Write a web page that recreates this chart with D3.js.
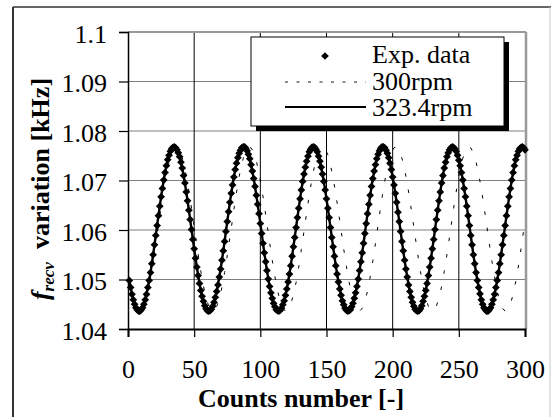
<html>
<script src='https://d3js.org/d3.v7.min.js'></script>
<style>
    body { margin: 0; background: #fff; }
    svg text { font-family: 'Liberation Serif', 'Times New Roman', serif; }
</style>
<body>
    <div id='vis'></div>
    <script>
        // measured frequency, one value per count (1..300)
        let expData = [
            1.0498,1.0484,1.0470,1.0459,1.0450,1.0443,1.0439,1.0436,1.0436,1.0439,
            1.0443,1.0450,1.0459,1.0470,1.0484,1.0498,1.0514,1.0532,1.0550,1.0570,
            1.0589,1.0609,1.0629,1.0648,1.0667,1.0684,1.0701,1.0716,1.0730,1.0742,
            1.0751,1.0759,1.0764,1.0767,1.0768,1.0766,1.0762,1.0756,1.0748,1.0737,
            1.0725,1.0710,1.0695,1.0677,1.0659,1.0640,1.0621,1.0601,1.0581,1.0562,
            1.0543,1.0525,1.0508,1.0492,1.0478,1.0466,1.0456,1.0447,1.0441,1.0437,
            1.0436,1.0437,1.0440,1.0446,1.0454,1.0464,1.0476,1.0489,1.0505,1.0521,
            1.0539,1.0558,1.0577,1.0597,1.0617,1.0637,1.0656,1.0674,1.0691,1.0707,
            1.0722,1.0735,1.0746,1.0755,1.0761,1.0766,1.0768,1.0768,1.0765,1.0760,
            1.0753,1.0744,1.0732,1.0719,1.0704,1.0688,1.0670,1.0652,1.0633,1.0613,
            1.0593,1.0573,1.0554,1.0536,1.0518,1.0501,1.0486,1.0473,1.0462,1.0452,
            1.0445,1.0439,1.0437,1.0436,1.0438,1.0442,1.0449,1.0457,1.0468,1.0481,
            1.0495,1.0511,1.0528,1.0547,1.0566,1.0585,1.0605,1.0625,1.0644,1.0663,
            1.0681,1.0698,1.0713,1.0727,1.0739,1.0749,1.0758,1.0763,1.0767,1.0768,
            1.0767,1.0763,1.0758,1.0749,1.0739,1.0727,1.0713,1.0698,1.0681,1.0663,
            1.0644,1.0625,1.0605,1.0585,1.0566,1.0547,1.0528,1.0511,1.0495,1.0481,
            1.0468,1.0457,1.0449,1.0442,1.0438,1.0436,1.0437,1.0439,1.0445,1.0452,
            1.0462,1.0473,1.0486,1.0501,1.0518,1.0536,1.0554,1.0573,1.0593,1.0613,
            1.0633,1.0652,1.0670,1.0688,1.0704,1.0719,1.0732,1.0744,1.0753,1.0760,
            1.0765,1.0768,1.0768,1.0766,1.0761,1.0755,1.0746,1.0735,1.0722,1.0707,
            1.0691,1.0674,1.0656,1.0636,1.0617,1.0597,1.0577,1.0558,1.0539,1.0521,
            1.0505,1.0489,1.0476,1.0464,1.0454,1.0446,1.0440,1.0437,1.0436,1.0437,
            1.0441,1.0447,1.0456,1.0466,1.0478,1.0492,1.0508,1.0525,1.0543,1.0562,
            1.0581,1.0601,1.0621,1.0640,1.0659,1.0677,1.0695,1.0710,1.0725,1.0737,
            1.0748,1.0756,1.0762,1.0766,1.0768,1.0767,1.0764,1.0759,1.0751,1.0741,
            1.0730,1.0716,1.0701,1.0684,1.0667,1.0648,1.0629,1.0609,1.0589,1.0570,
            1.0550,1.0532,1.0514,1.0498,1.0484,1.0471,1.0459,1.0450,1.0443,1.0439,
            1.0436,1.0436,1.0439,1.0443,1.0450,1.0459,1.0470,1.0484,1.0498,1.0514,
            1.0532,1.0550,1.0570,1.0589,1.0609,1.0629,1.0648,1.0667,1.0684,1.0701,
            1.0716,1.0730,1.0742,1.0751,1.0759,1.0764,1.0767,1.0768,1.0766,1.0762
        ];
        let expCounts = d3.range(1, expData.length + 1);

        // model curves, every second count plus the last one
        let lineCounts = d3.range(1, 300, 2).concat([300]);
        let fit323 = [
            1.0498,1.0470,1.0450,1.0439,1.0436,1.0443,1.0459,1.0484,1.0514,1.0550,
            1.0589,1.0629,1.0667,1.0701,1.0730,1.0751,1.0764,1.0768,1.0762,1.0748,
            1.0725,1.0695,1.0659,1.0621,1.0581,1.0543,1.0508,1.0478,1.0456,1.0441,
            1.0436,1.0440,1.0454,1.0476,1.0505,1.0539,1.0577,1.0617,1.0656,1.0691,
            1.0722,1.0746,1.0761,1.0768,1.0765,1.0753,1.0732,1.0704,1.0670,1.0633,
            1.0593,1.0554,1.0518,1.0486,1.0462,1.0445,1.0437,1.0438,1.0449,1.0468,
            1.0495,1.0528,1.0566,1.0605,1.0644,1.0681,1.0713,1.0739,1.0758,1.0767,
            1.0767,1.0758,1.0739,1.0713,1.0681,1.0644,1.0605,1.0566,1.0528,1.0495,
            1.0468,1.0449,1.0438,1.0437,1.0445,1.0462,1.0486,1.0518,1.0554,1.0593,
            1.0633,1.0670,1.0704,1.0732,1.0753,1.0765,1.0768,1.0761,1.0746,1.0722,
            1.0691,1.0656,1.0617,1.0577,1.0539,1.0505,1.0476,1.0454,1.0438,1.0433,
            1.0440,1.0456,1.0478,1.0508,1.0543,1.0581,1.0621,1.0659,1.0695,1.0725,
            1.0748,1.0762,1.0768,1.0764,1.0751,1.0730,1.0701,1.0667,1.0629,1.0589,
            1.0550,1.0514,1.0484,1.0459,1.0441,1.0433,1.0438,1.0450,1.0470,1.0498,
            1.0532,1.0570,1.0609,1.0648,1.0684,1.0716,1.0742,1.0759,1.0767,1.0766,
            1.0762
        ];
        let fit300 = [
            1.0497,1.0471,1.0451,1.0440,1.0436,1.0441,1.0455,1.0476,1.0503,1.0536,
            1.0572,1.0609,1.0646,1.0681,1.0712,1.0737,1.0755,1.0766,1.0768,1.0761,
            1.0746,1.0724,1.0696,1.0662,1.0626,1.0588,1.0551,1.0517,1.0487,1.0463,
            1.0446,1.0437,1.0437,1.0445,1.0461,1.0484,1.0514,1.0548,1.0585,1.0622,
            1.0659,1.0693,1.0722,1.0744,1.0760,1.0767,1.0766,1.0757,1.0739,1.0715,
            1.0685,1.0650,1.0613,1.0575,1.0539,1.0506,1.0478,1.0456,1.0442,1.0436,
            1.0439,1.0450,1.0469,1.0494,1.0525,1.0561,1.0598,1.0635,1.0671,1.0703,
            1.0730,1.0751,1.0764,1.0768,1.0764,1.0752,1.0731,1.0705,1.0673,1.0637,
            1.0600,1.0562,1.0527,1.0496,1.0470,1.0450,1.0439,1.0436,1.0442,1.0455,
            1.0477,1.0505,1.0537,1.0573,1.0611,1.0648,1.0683,1.0713,1.0738,1.0756,
            1.0766,1.0768,1.0761,1.0745,1.0723,1.0694,1.0661,1.0624,1.0587,1.0550,
            1.0516,1.0486,1.0462,1.0446,1.0437,1.0437,1.0446,1.0462,1.0486,1.0516,
            1.0550,1.0587,1.0624,1.0661,1.0694,1.0723,1.0745,1.0761,1.0768,1.0766,
            1.0756,1.0738,1.0713,1.0683,1.0648,1.0611,1.0573,1.0537,1.0505,1.0477,
            1.0455,1.0442,1.0436,1.0439,1.0450,1.0470,1.0496,1.0527,1.0562,1.0600,
            1.0618
        ];

        let xTicks = [0, 50, 100, 150, 200, 250, 300];
        let yTicks = [1.04, 1.05, 1.06, 1.07, 1.08, 1.09, 1.1];
        let legendLabels = ['Exp. data', '300rpm', '323.4rpm'];

        const FONT = "'Liberation Serif', 'Times New Roman', serif";

        function renderVis() {
            let svg = d3.select('#vis').append('svg').attr('width', 551).attr('height', 417);

            // outer frame
            svg.append('line').attr('x1', 13).attr('x2', 551).attr('y1', 7).attr('y2', 7)
                .attr('stroke', '#333').attr('stroke-width', 1.5);
            svg.append('line').attr('x1', 13).attr('x2', 13).attr('y1', 7).attr('y2', 417)
                .attr('stroke', '#333').attr('stroke-width', 2);
            svg.append('line').attr('x1', 550).attr('x2', 550).attr('y1', 7).attr('y2', 417)
                .attr('stroke', '#c8c8c8').attr('stroke-width', 1);

            let x = d3.scaleLinear().domain([0, 300]).range([128, 525]);
            let y = d3.scaleLinear().domain([1.04, 1.1]).range([329, 32]);

            // grid
            svg.selectAll('.hgrid').data(yTicks.slice(1, -1)).enter().append('line')
                .attr('class', 'hgrid')
                .attr('x1', x(0)).attr('x2', x(300))
                .attr('y1', d => y(d)).attr('y2', d => y(d))
                .attr('stroke', '#808080').attr('stroke-width', 1.2);
            svg.selectAll('.vgrid').data(xTicks.slice(1, -1)).enter().append('line')
                .attr('class', 'vgrid')
                .attr('x1', d => x(d)).attr('x2', d => x(d))
                .attr('y1', y(1.1)).attr('y2', y(1.04))
                .attr('stroke', '#000').attr('stroke-width', 1);

            // top and right plot border (grey)
            svg.append('line').attr('x1', x(0)).attr('x2', x(300) + 1).attr('y1', y(1.1)).attr('y2', y(1.1))
                .attr('stroke', '#999').attr('stroke-width', 2);
            svg.append('line').attr('x1', x(300) + 1).attr('x2', x(300) + 1).attr('y1', y(1.1)).attr('y2', y(1.04))
                .attr('stroke', '#999').attr('stroke-width', 2.5);

            // axes
            let yAxis = d3.axisLeft(y).tickValues(yTicks).tickSize(9).tickFormat(d3.format('~g'));
            let gy = svg.append('g').attr('transform', `translate(${x(0)},0)`).call(yAxis)
                .attr('font-family', FONT).attr('font-size', 26);
            gy.select('.domain').attr('stroke-width', 1.5);
            gy.selectAll('.tick line').attr('stroke-width', 1.2);
            gy.selectAll('.tick text')
                .attr('x', -21).attr('dy', '0.4em');

            let xAxis = d3.axisBottom(x).tickValues(xTicks).tickSize(8);
            let gx = svg.append('g').attr('transform', `translate(0,${y(1.04)})`).call(xAxis)
                .attr('font-family', FONT).attr('font-size', 26);
            gx.select('.domain').attr('stroke-width', 2);
            gx.selectAll('.tick line').attr('stroke-width', 1.2);
            gx.selectAll('.tick text')
                .attr('y', 49).attr('dy', 0);

            // axis titles
            svg.append('text')
                .attr('x', 301).attr('y', 407)
                .attr('text-anchor', 'middle')
                .attr('font-family', FONT)
                .style('font-size', '26px').style('font-weight', 'bold')
                .text('Counts number [-]');

            let yt = svg.append('text')
                .attr('transform', 'translate(49,189) rotate(-90)')
                .attr('text-anchor', 'middle')
                .attr('font-family', FONT)
                .style('font-size', '26px').style('font-weight', 'bold');
            yt.append('tspan').style('font-style', 'italic').text('f');
            yt.append('tspan').style('font-style', 'italic').style('font-size', '17px').attr('dy', 5).text('recv');
            yt.append('tspan').attr('dy', -5).text('\u00a0 variation [kHz]');

            // series
            let lineGen = d3.line().x((d, i) => x(lineCounts[i])).y(d => y(d));
            svg.append('path').datum(fit300)
                .attr('d', lineGen)
                .attr('fill', 'none').attr('stroke', '#000')
                .attr('stroke-width', 1).attr('stroke-dasharray', '3.5,13');

            svg.append('path').datum(fit323)
                .attr('d', lineGen)
                .attr('fill', 'none').attr('stroke', '#000').attr('stroke-width', 2.4);

            let diamond = d3.symbol().type(d3.symbolSquare).size(30);
            svg.selectAll('.pt').data(expData).enter().append('path')
                .attr('class', 'pt')
                .attr('d', diamond)
                .attr('transform', (d, i) => `translate(${x(expCounts[i])},${y(d)}) rotate(45)`)
                .attr('fill', '#000');

            // legend
            let lg = svg.append('g');
            lg.append('rect').attr('x', 256).attr('y', 42).attr('width', 253).attr('height', 89).attr('fill', '#000');
            lg.append('rect').attr('x', 251).attr('y', 37).attr('width', 253).attr('height', 89)
                .attr('fill', '#fff').attr('stroke', '#000').attr('stroke-width', 1);
            lg.append('path').attr('d', diamond).attr('transform', 'translate(325,56) rotate(45)').attr('fill', '#000');
            lg.append('line').attr('x1', 285).attr('x2', 366).attr('y1', 82).attr('y2', 82)
                .attr('stroke', '#000').attr('stroke-width', 0.9).attr('stroke-dasharray', '3,8.5');
            lg.append('line').attr('x1', 285).attr('x2', 366).attr('y1', 107).attr('y2', 107)
                .attr('stroke', '#000').attr('stroke-width', 2);
            lg.selectAll('.lt').data(legendLabels).enter().append('text')
                .attr('class', 'lt')
                .attr('x', 372).attr('y', (d, i) => 63 + i * 26.5)
                .attr('font-family', FONT)
                .style('font-size', '26px')
                .text(d => d);
        }
        renderVis();
    </script>
</body>
</html>
